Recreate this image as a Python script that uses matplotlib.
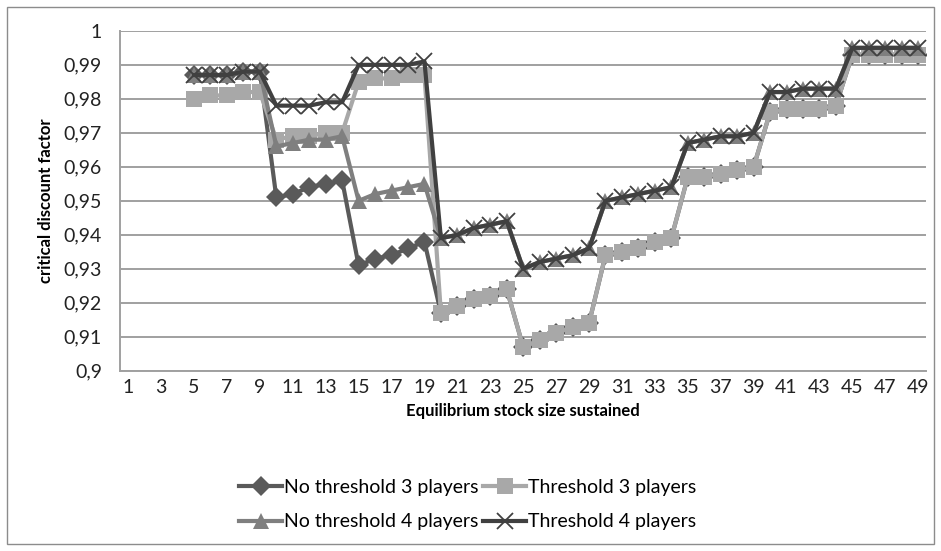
import numpy as np
import matplotlib.pyplot as plt

plt.rcParams['font.family'] = ['Lato', 'DejaVu Sans']

# Stock sizes 1..49 (values exist from 5 on)
stock = list(range(1, 50))
first = 5

no_thr_3 = [0.987, 0.987, 0.987, 0.988, 0.988,
            0.951, 0.952, 0.954, 0.955, 0.956,
            0.931, 0.933, 0.934, 0.936, 0.938,
            0.917, 0.919, 0.921, 0.922, 0.924,
            0.907, 0.909, 0.911, 0.913, 0.914,
            0.934, 0.935, 0.936, 0.938, 0.939,
            0.957, 0.957, 0.958, 0.959, 0.960,
            0.976, 0.977, 0.977, 0.977, 0.978,
            0.993, 0.993, 0.993, 0.993, 0.993]
thr_3 = [0.980, 0.981, 0.981, 0.982, 0.982,
         0.968, 0.969, 0.969, 0.970, 0.970,
         0.985, 0.986, 0.986, 0.987, 0.987,
         0.917, 0.919, 0.921, 0.922, 0.924,
         0.907, 0.909, 0.911, 0.913, 0.914,
         0.934, 0.935, 0.936, 0.938, 0.939,
         0.957, 0.957, 0.958, 0.959, 0.960,
         0.976, 0.977, 0.977, 0.977, 0.978,
         0.993, 0.993, 0.993, 0.993, 0.993]
no_thr_4 = [0.987, 0.987, 0.987, 0.988, 0.988,
            0.966, 0.967, 0.968, 0.968, 0.969,
            0.950, 0.952, 0.953, 0.954, 0.955,
            0.939, 0.940, 0.942, 0.943, 0.944,
            0.930, 0.932, 0.933, 0.934, 0.936,
            0.950, 0.951, 0.952, 0.953, 0.954,
            0.967, 0.968, 0.969, 0.969, 0.970,
            0.982, 0.982, 0.983, 0.983, 0.983,
            0.995, 0.995, 0.995, 0.995, 0.995]
thr_4 = [0.987, 0.987, 0.987, 0.988, 0.988,
         0.978, 0.978, 0.978, 0.979, 0.979,
         0.990, 0.990, 0.990, 0.990, 0.991,
         0.939, 0.940, 0.942, 0.943, 0.944,
         0.930, 0.932, 0.933, 0.934, 0.936,
         0.950, 0.951, 0.952, 0.953, 0.954,
         0.967, 0.968, 0.969, 0.969, 0.970,
         0.982, 0.982, 0.983, 0.983, 0.983,
         0.995, 0.995, 0.995, 0.995, 0.995]

labels = ['No threshold 3 players', 'Threshold 3 players',
          'No threshold 4 players', 'Threshold 4 players']

fig = plt.figure(figsize=(9.41, 5.51), dpi=100)
ax = fig.add_axes([0.1275, 0.327, 0.857, 0.617])

# outer chart border
fig.patches.append(plt.Rectangle((0.007, 0.012), 0.986, 0.975, transform=fig.transFigure,
                                 fill=False, edgecolor='#8c8c8c', linewidth=1.0))

xs = stock[first - 1:]
styles = [
    (no_thr_3, '#5a5a5a', 'D', 10),
    (thr_3, '#a8a8a8', 's', 11),
    (no_thr_4, '#7f7f7f', '^', 11),
    (thr_4, '#404040', 'x', 11.5),
]
handles = []
for (vals, col, mk, ms), lab in zip(styles, labels):
    kw = dict(markeredgecolor=col, markeredgewidth=1.3) if mk == 'x' else dict(markeredgewidth=0)
    h, = ax.plot(xs, vals, color=col, linewidth=3.0, marker=mk, markersize=ms,
                 markerfacecolor=col, label=lab, solid_joinstyle='round', **kw)
    handles.append(h)

ax.set_xlim(0.5, 49.5)
ax.set_ylim(0.9, 1.0)
ax.set_yticks(np.arange(0.9, 1.0001, 0.01))
ax.set_yticklabels(['0,9', '0,91', '0,92', '0,93', '0,94', '0,95', '0,96', '0,97',
                    '0,98', '0,99', '1'])
ax.set_xticks(stock[::2])
ax.set_xticklabels([str(s) for s in stock[::2]])
ax.tick_params(axis='both', length=0, labelsize=14, labelcolor='#222222')
ax.tick_params(axis='x', pad=6)
ax.tick_params(axis='y', pad=13)

ax.grid(axis='y', color='#a0a0a0', linewidth=1.4)
ax.set_axisbelow(True)
for side in ['top', 'right']:
    ax.spines[side].set_visible(False)
for side in ['left', 'bottom']:
    ax.spines[side].set_color('#a0a0a0')
    ax.spines[side].set_linewidth(1.4)

ax.set_xlabel('Equilibrium stock size sustained', fontsize=12, fontweight='bold', labelpad=5)
ax.set_ylabel('critical discount factor', fontsize=12, fontweight='bold', labelpad=7)

fig.legend([handles[0], handles[2], handles[1], handles[3]],
           [labels[0], labels[2], labels[1], labels[3]],
           ncol=2, loc='center', bbox_to_anchor=(0.497, 0.084), frameon=False,
           fontsize=14, handlelength=2.2, handletextpad=0.1, columnspacing=0.25,
           labelspacing=0.9)

fig.savefig('out.png', dpi=100)
